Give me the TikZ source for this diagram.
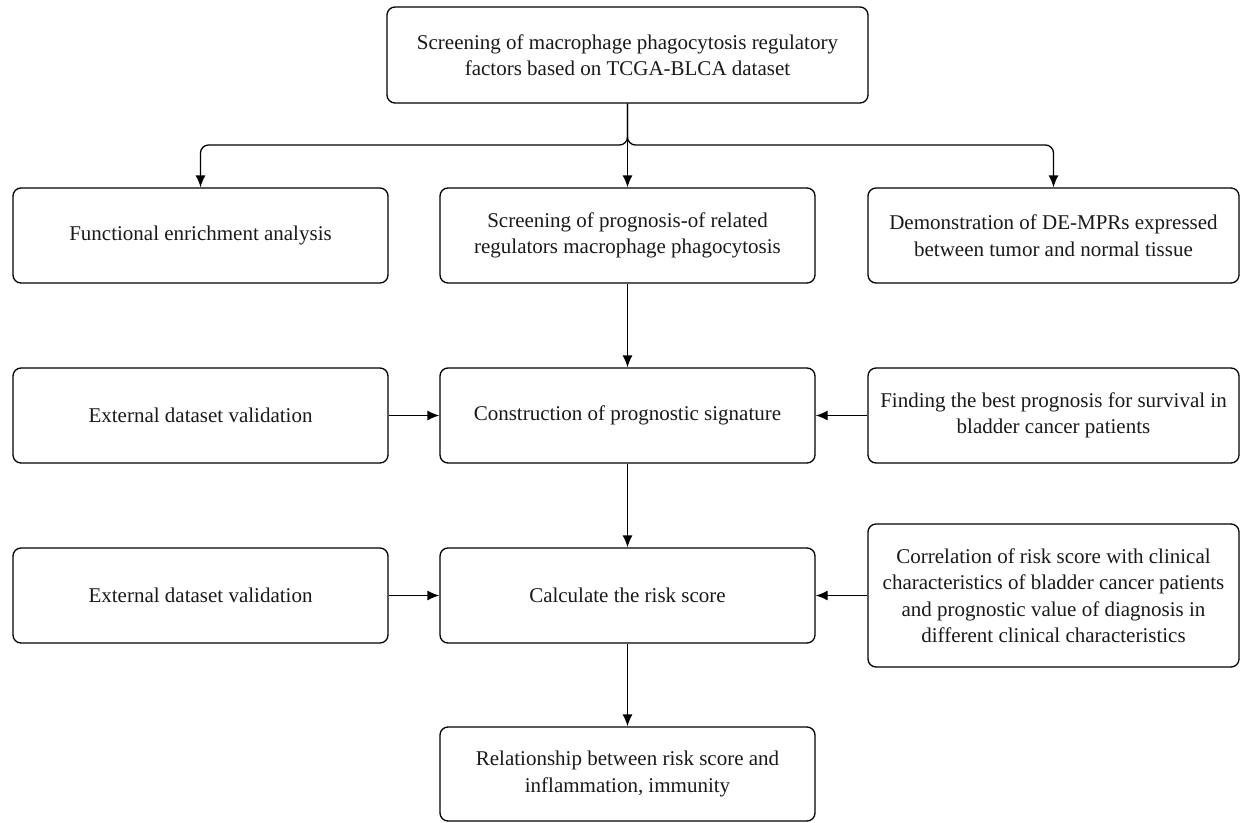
\documentclass[tikz,border=0pt]{standalone}
\usepackage{fontspec}
\setmainfont{Liberation Serif}
\usetikzlibrary{arrows.meta}
\begin{document}
\begin{tikzpicture}[x=1pt,y=-1pt,
  box/.style={draw, line width=1.3pt, rounded corners=8pt, align=center, inner sep=0pt,
    font=\fontsize{21}{26.5}\selectfont, text=black!90},
  conn/.style={line width=1.3pt, -{Latex[length=12pt,width=10pt]}}]
\useasboundingbox (0,0) rectangle (1242,822);
\node[box, minimum width=481pt, minimum height=96pt] (top) at (627.5,55) {Screening of macrophage phagocytosis regulatory\\factors based on TCGA-BLCA dataset};
\node[box, minimum width=375pt, minimum height=95pt] (fe) at (200.5,235.5) {Functional enrichment analysis};
\node[box, minimum width=375pt, minimum height=95pt] (sp) at (627.5,235.5) {Screening of prognosis-of related\\regulators macrophage phagocytosis};
\node[box, minimum width=371pt, minimum height=95pt] (de) at (1053.5,235.5) {Demonstration of DE-MPRs expressed\\between tumor and normal tissue};
\node[box, minimum width=375pt, minimum height=95pt] (ev1) at (200.5,415.5) {External dataset validation};
\node[box, minimum width=375pt, minimum height=95pt] (cp) at (627.5,415.5) {Construction of prognostic signature};
\node[box, minimum width=371pt, minimum height=95pt] (fb) at (1053.5,415.5) {Finding the best prognosis for survival in\\bladder cancer patients};
\node[box, minimum width=375pt, minimum height=95pt] (ev2) at (200.5,595.5) {External dataset validation};
\node[box, minimum width=375pt, minimum height=95pt] (rs) at (627.5,595.5) {Calculate the risk score};
\node[box, minimum width=371pt, minimum height=143pt] (cr) at (1053.5,595.5) {Correlation of risk score with clinical\\characteristics of bladder cancer patients\\and prognostic value of diagnosis in\\different clinical characteristics};
\node[box, minimum width=375pt, minimum height=94pt] (rel) at (627.5,774) {Relationship between risk score and\\inflammation, immunity};
\coordinate (j) at (627.5,145);
\draw[conn, rounded corners=8pt] (top.south) -- (j) -- (fe.north |- j) -- (fe.north);
\draw[conn, rounded corners=8pt] (top.south) -- (j) -- (de.north |- j) -- (de.north);
\draw[conn] (top.south) -- (sp.north);
\draw[conn] (sp.south) -- (cp.north);
\draw[conn] (cp.south) -- (rs.north);
\draw[conn] (rs.south) -- (rel.north);
\draw[conn] (ev1.east) -- (cp.west);
\draw[conn] (ev2.east) -- (rs.west);
\draw[conn] (fb.west) -- (cp.east);
\draw[conn] (cr.west) -- (rs.east);
\end{tikzpicture}
\end{document}
